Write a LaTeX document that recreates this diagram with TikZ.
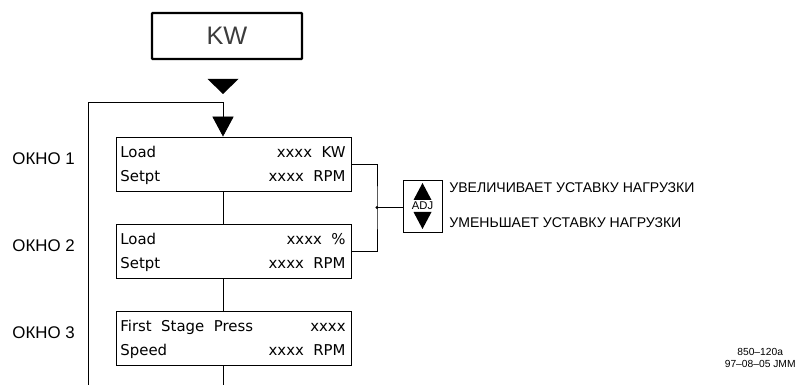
\documentclass[tikz,border=0pt]{standalone}
\usepackage{fontspec}
\setmainfont{Liberation Sans}
\newfontfamily\cadfont{DejaVu Sans}
\usepackage{xcolor}
\usepackage{tikz}
\usetikzlibrary{arrows.meta,positioning}
\definecolor{dspInk}{HTML}{000000}
\definecolor{dspSoft}{HTML}{3C3C3C}
\tikzset{
  dsp diagram/.style={x=0.025cm, y=-0.025cm, line width=0.6pt,
    line cap=butt, line join=miter},
  dsp title/.style={draw=dspInk, line width=1.6pt, rounded corners=0.6pt,
    minimum width=3.75cm, minimum height=1.15cm, inner sep=0pt,
    font=\fontsize{18}{20}\selectfont, text=dspSoft},
  dsp panel/.style={draw=dspInk, minimum width=5.875cm, minimum height=1.35cm,
    inner sep=0pt},
  dsp text/.style={font=\cadfont\fontsize{10.6}{12}\selectfont, inner sep=0pt},
  dsp label/.style={font=\fontsize{12}{14}\selectfont, inner sep=0pt},
  dsp link/.style={draw=dspInk, line width=0.6pt},
  dsp loop/.style={dsp link, -{Triangle[length=5mm,width=5.3mm]}},
  dsp key/.style={draw=dspInk, minimum width=0.975cm, minimum height=1.3cm,
    inner sep=0pt},
  dsp key text/.style={font=\fontsize{8}{9}\selectfont, inner sep=0pt},
  dsp note/.style={font=\fontsize{10}{11}\selectfont, inner sep=0pt},
  dsp ref/.style={font=\fontsize{7.3}{8.5}\selectfont, align=center, inner sep=0pt}
}
\begin{document}
\begin{tikzpicture}[dsp diagram]
\useasboundingbox (0,0) rectangle (798,385);
\node[dsp title] (kw) at (227,36) {KW};
\coordinate (tip) at (223,94);
\fill[dspInk] (tip) -- ++(-15.5,-15) -- ++(31,0) -- cycle;
\coordinate (spine) at (223,0);
% the three display windows
\foreach \n/\y/\la/\ra/\lb/\rb in {1/164/Load/{xxxx\ \ KW}/Setpt/{xxxx\ \ RPM},
    2/251/Load/{xxxx\ \ \%}/Setpt/{xxxx\ \ RPM},
    3/338/{First\ \ Stage\ \ Press}/{xxxx}/Speed/{xxxx\ \ RPM}}{
  \node[dsp panel] (box\n) at (233.5,\y) {};
  \node[dsp text,anchor=base west] at (120,{\y-6}) {\la};
  \node[dsp text,anchor=base east] at (346,{\y-6}) {\ra};
  \node[dsp text,anchor=base west] at (120,{\y+18}) {\lb};
  \node[dsp text,anchor=base east] at (346,{\y+18}) {\rb};
  \node[dsp label,anchor=base west] (win\n) at (12,{\y+1}) {ОКНО \n};
}
\draw[dsp link] (box1.south -| spine) -- (box2.north -| spine);
\draw[dsp link] (box2.south -| spine) -- (box3.north -| spine);
\coordinate (tail) at (223,385);
\draw[dsp link] (box3.south -| spine) -- (tail);
\coordinate (ret) at (88,385);
\coordinate (turn) at (223,102);
\draw[dsp loop] (ret) |- (turn) -- (box1.north -| spine);
% adjust key
\coordinate (jct) at (377,207.5);
\draw[dsp link] (box1.east) -| (jct) |- (box2.east);
\fill[dspInk] (jct) circle[radius=1.1pt];
\node[dsp key] (adj) at (422.5,206) {};
\draw[dsp link] (jct) -- (jct -| adj.west);
\node[dsp key text] (adjtext) at (adj.center) {ADJ};
\fill[dspInk] (adj.center) ++(0,-23) -- ++(9,17) -- ++(-18,0) -- cycle;
\fill[dspInk] (adj.center) ++(0,23) -- ++(9,-17) -- ++(-18,0) -- cycle;
\node[dsp note,anchor=base west] (raise) at (449,193) {УВЕЛИЧИВАЕТ УСТАВКУ НАГРУЗКИ};
\node[dsp note,anchor=base west] (lower) at (449,228) {УМЕНЬШАЕТ УСТАВКУ НАГРУЗКИ};
\node[dsp ref,anchor=south east] (ref) at (796,368) {850–120a\\97–08–05 JMM};
\end{tikzpicture}
\end{document}
